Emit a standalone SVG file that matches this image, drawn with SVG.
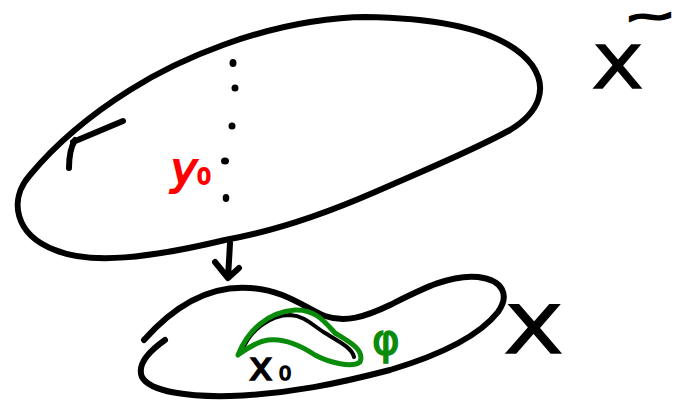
<svg xmlns="http://www.w3.org/2000/svg" width="678" height="403" viewBox="0 0 678 403">
<style>
.ln{fill:none;stroke:#000;stroke-width:6;stroke-linecap:round;stroke-linejoin:round}
.gr{fill:none;stroke:#0a8c0a;stroke-width:5;stroke-linecap:round;stroke-linejoin:round}
.hw{font-family:"DejaVu Sans",sans-serif}
</style>
<rect width="678" height="403" fill="#fff"/>
<g id="cover-space">
<path class="ln" d="M365,17 C440,18 505,30 532,65 C548,88 540,112 510,130 C470,152 420,172 375,192 C320,216 270,232 225,240 C150,258 90,265 55,250 C15,235 8,200 30,175 C55,145 90,115 130,90 C190,52 260,30 310,22 C330,19 345,17 365,17 Z"/>
<path class="ln" d="M123,121 L73,142 M69,168 Q69,150 75,140"/>
<g fill="#000">
<ellipse cx="233" cy="63" rx="3.5" ry="4"/>
<ellipse cx="235" cy="88" rx="3.5" ry="3.5"/>
<ellipse cx="232" cy="126" rx="3.5" ry="3.5"/>
<ellipse cx="225" cy="161" rx="4" ry="3.5"/>
<ellipse cx="226" cy="198" rx="3.3" ry="4"/>
</g>
<text class="hw" x="171" y="184" fill="#f00" stroke="#f00" stroke-width="2" font-size="44" font-style="italic">y<tspan font-size="22" font-style="normal">0</tspan></text>
<text class="hw" x="592" y="88" font-size="59" stroke="#000" stroke-width="1.5" textLength="51" lengthAdjust="spacingAndGlyphs">X</text>
<text class="hw" x="626" y="25" font-size="27" stroke="#000" stroke-width="3" textLength="48" lengthAdjust="spacingAndGlyphs">~</text>
</g>
<g id="connectors">
<path class="ln" d="M230,243 Q229,262 228,277 M215,262 L228,278 L239,268"/>
</g>
<g id="base-space">
<path class="ln" d="M165,340 C148,352 137,365 142,377 C150,392 190,397 230,396 C290,394 340,383 390,370 C440,355 480,335 498,312 C510,295 503,280 478,277 C450,274 420,290 390,305 C365,317 345,323 325,316 C305,308 285,290 250,288 C210,285 175,305 144,340"/>
<path class="ln" style="stroke-width:4" d="M242,351 C250,330 270,315 290,315 C305,316 312,325 325,333 C340,342 352,348 354,357"/>
<path class="gr" d="M238,355 C248,330 268,312 295,310 C315,309 325,322 335,333 C350,342 365,350 360,362 C352,368 330,363 315,355 C300,345 285,338 268,340 C255,342 245,350 238,355 Z"/>
<text class="hw" x="372" y="354" fill="#0a8c0a" stroke="#0a8c0a" stroke-width="1.5" font-size="42">φ</text>
<text class="hw" x="249" y="380" font-size="40" stroke="#000" stroke-width="1.5">x<tspan font-size="20" dx="6">0</tspan></text>
<text class="hw" x="504" y="353" font-size="66" stroke="#000" stroke-width="1.5" textLength="59" lengthAdjust="spacingAndGlyphs">X</text>
</g>
</svg>
